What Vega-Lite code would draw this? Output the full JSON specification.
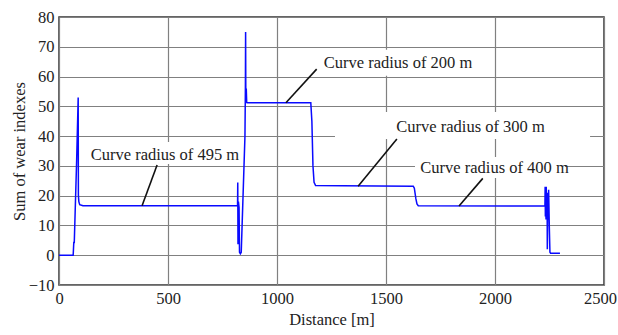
{
  "$schema": "https://vega.github.io/schema/vega-lite/v6.json",
  "width": 545,
  "height": 268,
  "autosize": "none",
  "padding": {"left": 59, "top": 17, "right": 14, "bottom": 50},
  "background": "white",
  "config": {
    "view": {"stroke": "#333333", "strokeWidth": 1.5},
    "font": "Liberation Serif",
    "axis": {
      "labelFont": "Liberation Serif",
      "titleFont": "Liberation Serif",
      "labelFontSize": 16.5,
      "titleFontSize": 16.5,
      "titleFontWeight": "normal",
      "labelColor": "#222222",
      "titleColor": "#222222",
      "gridColor": "#808080",
      "gridWidth": 1.2,
      "gridOpacity": 1,
      "domain": false,
      "ticks": false,
      "labelOverlap": false,
      "labelFlush": false,
      "labelBound": false
    }
  },
  "datasets": {
    "curve": [
      {"d": 0, "v": 0}, {"d": 65, "v": 0}, {"d": 68, "v": 4.5}, {"d": 70, "v": 4},
      {"d": 81, "v": 32}, {"d": 88, "v": 53}, {"d": 89, "v": 20}, {"d": 91, "v": 18},
      {"d": 95, "v": 17}, {"d": 110, "v": 16.6}, {"d": 819, "v": 16.6}, {"d": 820, "v": 24.4},
      {"d": 821, "v": 3.7}, {"d": 823, "v": 18}, {"d": 826, "v": 16}, {"d": 828, "v": 1},
      {"d": 832, "v": 0.5}, {"d": 836, "v": 1}, {"d": 853, "v": 40}, {"d": 855, "v": 56},
      {"d": 856, "v": 75}, {"d": 857, "v": 52}, {"d": 859, "v": 56}, {"d": 861, "v": 51.3},
      {"d": 865, "v": 51.2}, {"d": 1155, "v": 51.2}, {"d": 1160, "v": 45}, {"d": 1165, "v": 30},
      {"d": 1170, "v": 24.5}, {"d": 1177, "v": 23.4}, {"d": 1300, "v": 23.3}, {"d": 1625, "v": 23.2},
      {"d": 1630, "v": 22.5}, {"d": 1637, "v": 19}, {"d": 1642, "v": 17.2}, {"d": 1648, "v": 16.6},
      {"d": 2229, "v": 16.5}, {"d": 2230, "v": 23}, {"d": 2231, "v": 13}, {"d": 2232, "v": 22},
      {"d": 2234, "v": 12}, {"d": 2235, "v": 23}, {"d": 2237, "v": 13}, {"d": 2239, "v": 21},
      {"d": 2240, "v": 2}, {"d": 2242, "v": 16}, {"d": 2244, "v": 12}, {"d": 2246, "v": 22},
      {"d": 2249, "v": 10}, {"d": 2252, "v": 1}, {"d": 2255, "v": 0.7}, {"d": 2298, "v": 0.7}
    ],
    "boxes": [
      {"d": 119, "d2": 844, "v": 38, "v2": 30.6},
      {"d": 1188, "d2": 1922, "v": 69, "v2": 60.3},
      {"d": 1266, "d2": 2436, "v": 48.1, "v2": 39},
      {"d": 1633, "d2": 2321, "v": 33, "v2": 25.9}
    ],
    "leaders": [
      {"d": 381, "v": 16.6, "d2": 450, "v2": 30.3},
      {"d": 1041, "v": 51.2, "d2": 1182, "v2": 62.5},
      {"d": 1372, "v": 23.2, "d2": 1550, "v2": 39},
      {"d": 1835, "v": 16.5, "d2": 1944, "v2": 25.8}
    ],
    "labels": [
      {"d": 486, "v": 33.7, "label": "Curve radius of 495 m"},
      {"d": 1555, "v": 64.7, "label": "Curve radius of 200 m"},
      {"d": 1888, "v": 43.1, "label": "Curve radius of 300 m"},
      {"d": 1998, "v": 29.3, "label": "Curve radius of 400 m"}
    ]
  },
  "layer": [
    {
      "data": {"name": "boxes"},
      "mark": {"type": "rect", "fill": "white", "stroke": null},
      "encoding": {
        "x": {
          "field": "d", "type": "quantitative", "title": "Distance [m]",
          "scale": {"domain": [0, 2500], "nice": false, "zero": false},
          "axis": {"values": [0, 500, 1000, 1500, 2000, 2500], "tickCount": 6, "labelPadding": 5, "titlePadding": 5, "format": "d", "labelOffset": {"expr": "datum.value == 2500 ? -4 : 0"}}
        },
        "x2": {"field": "d2"},
        "y": {
          "field": "v", "type": "quantitative", "title": "Sum of wear indexes",
          "scale": {"domain": [-10, 80], "nice": false, "zero": false},
          "axis": {"values": [-10, 0, 10, 20, 30, 40, 50, 60, 70, 80], "tickCount": 10, "labelPadding": 5, "titlePadding": 1}
        },
        "y2": {"field": "v2"}
      }
    },
    {
      "data": {"name": "curve"},
      "mark": {"type": "line", "color": "#0a0aff", "strokeWidth": 1.5},
      "encoding": {
        "x": {"field": "d", "type": "quantitative", "title": "Distance [m]"},
        "y": {"field": "v", "type": "quantitative", "title": "Sum of wear indexes"}
      }
    },
    {
      "data": {"name": "leaders"},
      "mark": {"type": "rule", "color": "#111111", "strokeWidth": 1.6},
      "encoding": {
        "x": {"field": "d", "type": "quantitative", "title": "Distance [m]"},
        "y": {"field": "v", "type": "quantitative", "title": "Sum of wear indexes"},
        "x2": {"field": "d2"},
        "y2": {"field": "v2"}
      }
    },
    {
      "data": {"name": "labels"},
      "mark": {"type": "text", "font": "Liberation Serif", "fontSize": 16.5, "color": "#222222", "align": "center", "baseline": "middle"},
      "encoding": {
        "x": {"field": "d", "type": "quantitative", "title": "Distance [m]"},
        "y": {"field": "v", "type": "quantitative", "title": "Sum of wear indexes"},
        "text": {"field": "label"}
      }
    }
  ]
}
